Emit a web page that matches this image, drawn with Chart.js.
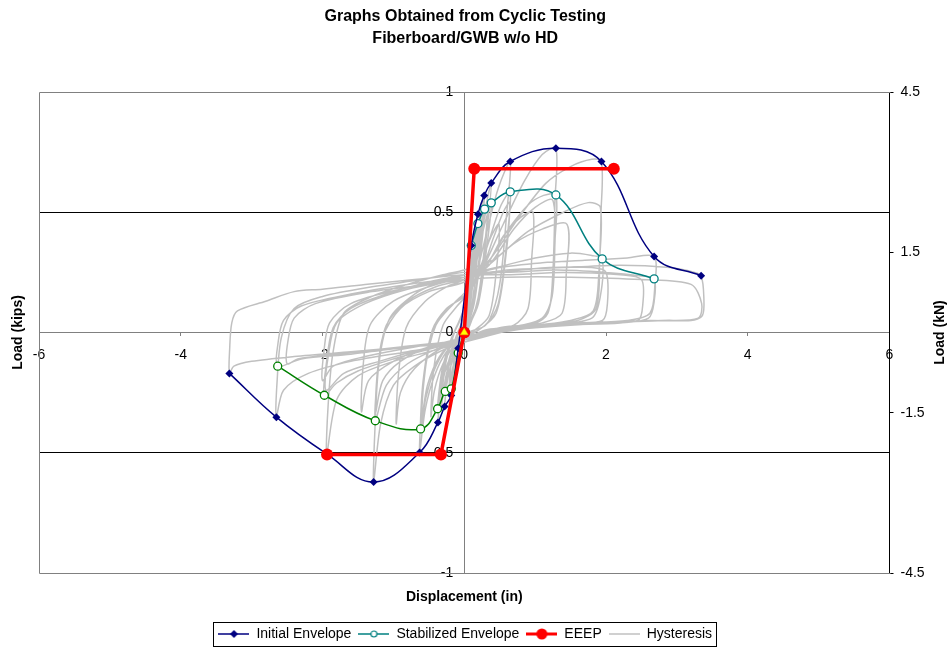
<!DOCTYPE html>
<html>
<head>
<meta charset="utf-8">
<script src="https://cdn.jsdelivr.net/npm/chart.js@4.4.1/dist/chart.umd.min.js"></script>
<style>
  html, body { margin: 0; padding: 0; background: #fff; }
</style>
</head>
<body>
<canvas id="chart" width="948" height="648"></canvas>
<script>
// values: [displacement (in), load (kips)]
const initialEnvelope = [
  [-3.314, -0.170], [-2.651, -0.352], [-1.940, -0.505], [-1.279, -0.622], [-0.630, -0.499],
  [-0.371, -0.374], [-0.277, -0.308], [-0.183, -0.262], [-0.085, -0.065],
  [0.099, 0.362], [0.193, 0.492], [0.282, 0.570], [0.381, 0.622], [0.649, 0.711],
  [1.293, 0.766], [1.936, 0.711], [2.679, 0.316], [3.342, 0.236]
];
const stabilizedPos = [
  [0.099, 0.362], [0.193, 0.453], [0.287, 0.513], [0.381, 0.539], [0.649, 0.585],
  [1.293, 0.572], [1.946, 0.306], [2.679, 0.223]
];
const stabilizedNeg = [
  [-2.632, -0.140], [-1.974, -0.261], [-1.255, -0.367], [-0.616, -0.401], [-0.376, -0.317],
  [-0.268, -0.245], [-0.183, -0.234], [-0.085, -0.085], [0, 0]
];
const eeep = [[-1.936, -0.507], [-0.329, -0.507], [0, 0], [0.141, 0.681], [2.110, 0.681]];
const originPoint = [[0, 0]];

// one gray trace, cut into cycles only to keep it readable
const hysteresisLoops = [
  [[0,0],[0.03,0.12],[0.07,0.27],[0.099,0.362],[0.08,0.25],[0.04,0.08],[0,-0.01],[-0.05,-0.04],[-0.085,-0.065],[-0.06,-0.02],[-0.02,0.03],[0.01,0.08]],
  [[0.05,0.2],[0.09,0.33],[0.07,0.2],[0.03,0.05],[-0.03,-0.02],[-0.075,-0.055],[-0.04,0],[0,0.06]],
  [[0.06,0.2],[0.13,0.37],[0.193,0.492],[0.16,0.36],[0.1,0.16],[0.03,0.02],[-0.05,-0.04],[-0.12,-0.12],[-0.183,-0.262],[-0.15,-0.14],[-0.08,-0.03],[0,0.06]],
  [[0.08,0.22],[0.14,0.36],[0.19,0.453],[0.15,0.3],[0.08,0.1],[0,0],[-0.08,-0.07],[-0.14,-0.15],[-0.18,-0.234],[-0.14,-0.1],[-0.06,-0.01],[0.01,0.07]],
  [[0.1,0.24],[0.2,0.44],[0.282,0.57],[0.24,0.4],[0.15,0.16],[0.05,0.03],[-0.06,-0.04],[-0.17,-0.12],[-0.24,-0.2],[-0.277,-0.308],[-0.23,-0.16],[-0.13,-0.03],[0,0.07]],
  [[0.12,0.25],[0.22,0.43],[0.287,0.513],[0.24,0.35],[0.14,0.12],[0.02,0.01],[-0.1,-0.06],[-0.2,-0.15],[-0.268,-0.245],[-0.22,-0.12],[-0.1,-0.01],[0.01,0.08]],
  [[0.12,0.24],[0.26,0.46],[0.381,0.622],[0.33,0.45],[0.22,0.18],[0.08,0.03],[-0.08,-0.04],[-0.22,-0.12],[-0.32,-0.22],[-0.371,-0.374],[-0.32,-0.2],[-0.2,-0.04],[-0.05,0.06],[0.03,0.1]],
  [[0.15,0.26],[0.28,0.44],[0.381,0.539],[0.32,0.36],[0.2,0.12],[0.05,0.02],[-0.12,-0.06],[-0.26,-0.15],[-0.376,-0.317],[-0.31,-0.15],[-0.17,-0.02],[0,0.09]],
  [[0.04,0.15],[0.1,0.3],[0.14,0.38],[0.11,0.25],[0.05,0.08],[-0.03,-0.03],[-0.1,-0.1],[-0.14,-0.18],[-0.11,-0.08],[-0.04,0.02],[0.02,0.09]],
  [[0.08,0.2],[0.17,0.38],[0.22,0.46],[0.18,0.3],[0.1,0.1],[0,0],[-0.1,-0.08],[-0.18,-0.17],[-0.22,-0.26],[-0.18,-0.12],[-0.08,0],[0.01,0.08]],
  [[0.12,0.23],[0.24,0.42],[0.33,0.52],[0.28,0.34],[0.18,0.12],[0.04,0.02],[-0.12,-0.07],[-0.25,-0.17],[-0.32,-0.3],[-0.27,-0.14],[-0.15,-0.01],[0,0.1]],
  [[0.15,0.22],[0.32,0.42],[0.48,0.6],[0.649,0.711],[0.6,0.5],[0.5,0.2],[0.35,0.05],[0.15,0],[-0.05,-0.03],[-0.25,-0.08],[-0.42,-0.18],[-0.55,-0.32],[-0.63,-0.499],[-0.6,-0.3],[-0.5,-0.06],[-0.35,0.06],[-0.15,0.12],[0.02,0.16]],
  [[0.2,0.25],[0.38,0.41],[0.52,0.53],[0.649,0.585],[0.6,0.38],[0.48,0.12],[0.3,0.03],[0.05,0],[-0.2,-0.05],[-0.4,-0.14],[-0.54,-0.27],[-0.616,-0.401],[-0.58,-0.2],[-0.45,0.01],[-0.25,0.1],[0,0.15]],
  [[0.22,0.24],[0.42,0.4],[0.55,0.5],[0.64,0.54],[0.58,0.3],[0.45,0.08],[0.2,0.01],[-0.1,-0.03],[-0.35,-0.1],[-0.52,-0.22],[-0.6,-0.36],[-0.55,-0.15],[-0.4,0.03],[-0.15,0.12],[0.02,0.17]],
  [[0.2,0.24],[0.35,0.38],[0.49,0.45],[0.45,0.25],[0.35,0.07],[0.15,0.01],[-0.1,-0.04],[-0.3,-0.13],[-0.42,-0.24],[-0.47,-0.35],[-0.43,-0.15],[-0.3,0.03],[-0.1,0.11],[0.02,0.15]],
  [[0.25,0.26],[0.55,0.45],[0.85,0.63],[1.1,0.74],[1.293,0.766],[1.28,0.55],[1.25,0.25],[1.18,0.08],[0.95,0.03],[0.6,0.01],[0.3,-0.01],[0,-0.04],[-0.35,-0.08],[-0.7,-0.14],[-1.0,-0.22],[-1.18,-0.38],[-1.279,-0.622],[-1.26,-0.4],[-1.2,-0.12],[-1.05,0.06],[-0.7,0.16],[-0.35,0.21],[0,0.24]],
  [[0.3,0.28],[0.6,0.42],[0.9,0.53],[1.12,0.57],[1.293,0.572],[1.28,0.38],[1.24,0.15],[1.1,0.06],[0.8,0.03],[0.4,0.01],[0,-0.03],[-0.4,-0.07],[-0.8,-0.13],[-1.1,-0.22],[-1.255,-0.367],[-1.23,-0.2],[-1.15,-0.02],[-0.9,0.1],[-0.5,0.17],[0,0.21]],
  [[0.35,0.28],[0.7,0.43],[1.0,0.52],[1.25,0.55],[1.27,0.3],[1.2,0.1],[1.0,0.04],[0.5,0.02],[0,-0.02],[-0.5,-0.06],[-0.9,-0.12],[-1.15,-0.2],[-1.25,-0.33],[-1.22,-0.15],[-1.1,0.03],[-0.8,0.13],[-0.4,0.19],[0,0.22]],
  [[0.25,0.25],[0.55,0.4],[0.8,0.48],[0.97,0.5],[0.95,0.3],[0.9,0.1],[0.7,0.03],[0.3,0.01],[0,-0.03],[-0.35,-0.07],[-0.7,-0.15],[-0.9,-0.25],[-0.96,-0.38],[-0.93,-0.18],[-0.82,0.02],[-0.55,0.13],[-0.25,0.19],[0,0.22]],
  [[0.35,0.3],[0.75,0.47],[1.15,0.62],[1.5,0.69],[1.8,0.72],[1.936,0.711],[1.93,0.5],[1.9,0.25],[1.82,0.09],[1.5,0.05],[1.0,0.03],[0.5,0.01],[0,-0.04],[-0.5,-0.08],[-1.0,-0.12],[-1.5,-0.18],[-1.8,-0.28],[-1.94,-0.505],[-1.92,-0.3],[-1.85,-0.08],[-1.7,0.08],[-1.3,0.15],[-0.8,0.2],[-0.3,0.24],[0,0.26]],
  [[0.4,0.3],[0.9,0.42],[1.4,0.5],[1.75,0.54],[1.92,0.52],[1.91,0.3],[1.86,0.1],[1.6,0.05],[1.0,0.03],[0.5,0.01],[0,-0.03],[-0.5,-0.07],[-1.0,-0.11],[-1.5,-0.16],[-1.8,-0.21],[-1.974,-0.261],[-1.95,-0.14],[-1.85,0.02],[-1.6,0.1],[-1.1,0.16],[-0.5,0.21],[0,0.24]],
  [[0.45,0.27],[1.0,0.31],[1.5,0.33],[1.8,0.32],[1.946,0.306],[1.92,0.15],[1.8,0.06],[1.2,0.03],[0.5,0],[0,-0.03],[-0.6,-0.07],[-1.2,-0.12],[-1.7,-0.17],[-1.95,-0.24],[-1.92,-0.1],[-1.8,0.04],[-1.4,0.12],[-0.8,0.18],[0,0.23]],
  [[0.3,0.27],[0.7,0.37],[1.1,0.43],[1.45,0.45],[1.44,0.25],[1.38,0.08],[1.1,0.04],[0.6,0.02],[0,-0.03],[-0.5,-0.06],[-1.0,-0.12],[-1.35,-0.2],[-1.45,-0.33],[-1.43,-0.15],[-1.33,0.03],[-1.0,0.13],[-0.5,0.19],[0,0.23]],
  [[0.5,0.27],[1.1,0.29],[1.7,0.3],[2.3,0.31],[2.679,0.316],[2.69,0.2],[2.62,0.08],[2.3,0.05],[1.6,0.04],[0.8,0.02],[0,-0.04],[-0.8,-0.08],[-1.6,-0.12],[-2.2,-0.17],[-2.55,-0.24],[-2.651,-0.352],[-2.64,-0.2],[-2.58,-0.02],[-2.4,0.1],[-2.0,0.15],[-1.3,0.19],[-0.6,0.22],[0,0.25]],
  [[0.6,0.25],[1.3,0.26],[2.0,0.25],[2.5,0.235],[2.679,0.223],[2.68,0.13],[2.6,0.06],[2.2,0.04],[1.4,0.03],[0.6,0.01],[0,-0.03],[-0.8,-0.06],[-1.6,-0.09],[-2.3,-0.11],[-2.632,-0.14],[-2.63,-0.05],[-2.55,0.05],[-2.3,0.11],[-1.6,0.16],[-0.8,0.2],[0,0.23]],
  [[0.5,0.25],[1.2,0.27],[1.8,0.27],[2.0,0.25],[2.02,0.12],[1.95,0.05],[1.5,0.04],[0.7,0.02],[0,-0.03],[-0.7,-0.06],[-1.4,-0.1],[-1.85,-0.14],[-2.0,-0.2],[-1.98,-0.08],[-1.9,0.04],[-1.6,0.12],[-0.9,0.18],[0,0.23]],
  [[0.6,0.26],[1.4,0.27],[2.2,0.28],[2.9,0.27],[3.25,0.25],[3.342,0.236],[3.38,0.15],[3.36,0.07],[3.2,0.05],[2.6,0.05],[1.8,0.04],[1.0,0.02],[0.3,0],[0,-0.04],[-0.8,-0.06],[-1.6,-0.08],[-2.4,-0.1],[-3.0,-0.12],[-3.25,-0.14],[-3.314,-0.17],[-3.31,-0.07],[-3.28,0.04],[-3.2,0.09],[-2.8,0.13],[-2.4,0.17],[-2.0,0.18],[-1.4,0.2],[-0.7,0.22],[0,0.24]],
  [[0.6,0.24],[1.4,0.25],[2.2,0.24],[2.5,0.22],[2.52,0.12],[2.45,0.05],[1.8,0.04],[0.8,0.02],[0,-0.03],[-0.9,-0.06],[-1.8,-0.09],[-2.35,-0.11],[-2.5,-0.13],[-2.49,-0.04],[-2.4,0.06],[-2.1,0.12],[-1.3,0.17],[-0.5,0.2],[0,0.22]],
  [[0.6,0.23],[1.5,0.23],[2.5,0.22],[3.2,0.2],[3.35,0.12],[3.3,0.06],[2.8,0.05],[2.0,0.04],[1.0,0.02],[0.2,0]]
];

const titleLines = ['Graphs Obtained from Cyclic Testing', 'Fiberboard/GWB w/o HD'];
const xTicks = { min: -6, max: 6, step: 2 };
const kipsTicks = { min: -1, max: 1, step: 0.5 };
const kNTicks = { min: -4.5, max: 4.5, step: 3 };

const NAVY = '#000080';
const TEAL = '#008080';
const GREEN = '#008000';
const RED = '#FF0000';
const GREY = '#C0C0C0';
const AXIS_GREY = '#808080';
const FONT = 'Liberation Sans, Arial, Helvetica, sans-serif';

const toXY = (pairs) => pairs.map((p) => ({ x: p[0], y: p[1] }));
const plainNumber = (v) => String(Math.round(v * 100) / 100);

// little canvases used as legend symbols (line with the marker in the middle)
const makeIcon = (draw) => {
  const c = document.createElement('canvas');
  c.width = 31;
  c.height = 14;
  const g = c.getContext('2d');
  draw(g);
  return c;
};
const iconLine = (g, color, width) => {
  g.strokeStyle = color;
  g.lineWidth = width;
  g.beginPath();
  g.moveTo(0, 7);
  g.lineTo(31, 7);
  g.stroke();
};
const legendIcons = [
  makeIcon((g) => {
    iconLine(g, NAVY, 1.5);
    g.fillStyle = NAVY;
    g.beginPath();
    g.moveTo(15.5, 3); g.lineTo(19.5, 7); g.lineTo(15.5, 11); g.lineTo(11.5, 7);
    g.closePath();
    g.fill();
  }),
  makeIcon((g) => {
    iconLine(g, TEAL, 1.5);
    g.fillStyle = '#fff';
    g.strokeStyle = TEAL;
    g.lineWidth = 1.2;
    g.beginPath();
    g.arc(15.5, 7, 3, 0, Math.PI * 2);
    g.fill();
    g.stroke();
  }),
  makeIcon((g) => {
    iconLine(g, RED, 3);
    g.fillStyle = RED;
    g.beginPath();
    g.arc(15.5, 7, 5.5, 0, Math.PI * 2);
    g.fill();
  }),
  makeIcon((g) => {
    iconLine(g, GREY, 1.5);
  })
];

const extrasPlugin = {
  id: 'extras',
  beforeDatasetsDraw(chart) {
    const { ctx, chartArea: a } = chart;
    ctx.save();
    ctx.strokeStyle = AXIS_GREY;
    ctx.lineWidth = 1;
    ctx.beginPath();
    ctx.moveTo(Math.round(a.right) + 0.5, Math.round(a.top) + 0.5);
    ctx.lineTo(Math.round(a.left) + 0.5, Math.round(a.top) + 0.5);
    ctx.lineTo(Math.round(a.left) + 0.5, Math.round(a.bottom) + 0.5);
    ctx.lineTo(Math.round(a.right) + 0.5, Math.round(a.bottom) + 0.5);
    ctx.stroke();
    ctx.restore();
  },
  afterDraw(chart) {
    const { ctx, chartArea: a } = chart;
    ctx.save();
    // right axis title reads bottom to top like the left one
    ctx.translate(940, (a.top + a.bottom) / 2);
    ctx.rotate(-Math.PI / 2);
    ctx.font = 'bold 14px ' + FONT;
    ctx.fillStyle = '#000';
    ctx.textAlign = 'center';
    ctx.textBaseline = 'middle';
    ctx.fillText('Load (kN)', 0, 0);
    ctx.restore();

    const boxes = chart.legend.legendHitBoxes;
    if (boxes && boxes.length) {
      const first = boxes[0];
      const last = boxes[boxes.length - 1];
      const l = Math.round(first.left - 5) + 0.5;
      const r = Math.round(last.left + last.width + 4) + 0.5;
      const t = Math.round(first.top - 5) + 0.5;
      const b = Math.round(first.top + first.height + 5) + 0.5;
      ctx.save();
      ctx.strokeStyle = '#000';
      ctx.lineWidth = 1;
      ctx.strokeRect(l, t, r - l, b - t);
      ctx.restore();
    }
  }
};

Chart.defaults.font.family = FONT;
Chart.defaults.color = '#000';

const chart = new Chart(document.getElementById('chart'), {
  type: 'scatter',
  data: {
    datasets: [
      {
        label: 'Initial Envelope',
        data: toXY(initialEnvelope),
        showLine: true,
        tension: 0.4,
        borderColor: NAVY,
        backgroundColor: NAVY,
        borderWidth: 1.5,
        pointStyle: 'rectRot',
        pointRadius: 4,
        pointBorderWidth: 0,
        order: 2
      },
      {
        label: 'Stabilized Envelope',
        data: toXY(stabilizedPos),
        showLine: true,
        tension: 0.4,
        borderColor: TEAL,
        backgroundColor: '#fff',
        borderWidth: 1.5,
        pointRadius: 4,
        pointBorderWidth: 1.3,
        order: 3
      },
      {
        label: 'EEEP',
        data: toXY(eeep),
        showLine: true,
        tension: 0,
        borderColor: RED,
        backgroundColor: RED,
        borderWidth: 3.5,
        pointRadius: 6,
        pointBorderWidth: 0,
        order: 1
      },
      {
        label: 'Hysteresis',
        data: hysteresisLoops.flat().map((p) => ({ x: p[0], y: p[1] })),
        showLine: true,
        tension: 0.3,
        borderColor: GREY,
        backgroundColor: GREY,
        borderWidth: 1.5,
        pointRadius: 0,
        order: 9
      },
      {
        label: 'Stabilized Envelope (-)',
        data: toXY(stabilizedNeg),
        showLine: true,
        tension: 0.4,
        borderColor: GREEN,
        backgroundColor: '#fff',
        borderWidth: 1.5,
        pointRadius: [4, 4, 4, 4, 4, 4, 4, 4, 0],
        pointBorderWidth: 1.3,
        order: 3
      },
      {
        label: 'Origin',
        data: toXY(originPoint),
        showLine: false,
        pointStyle: 'triangle',
        pointRadius: 4.5,
        backgroundColor: '#FFFF00',
        borderColor: '#E0C000',
        pointBorderWidth: 0.5,
        order: 0
      }
    ]
  },
  options: {
    responsive: false,
    animation: false,
    events: [],
    layout: { padding: { left: 0, right: 17.5, top: 0, bottom: 0 } },
    plugins: {
      title: {
        display: true,
        text: titleLines,
        color: '#000',
        font: { size: 16, weight: 'bold', lineHeight: 1.375 },
        padding: { top: 6, bottom: 42 }
      },
      legend: {
        position: 'bottom',
        maxHeight: 28,
        labels: {
          usePointStyle: true,
          pointStyleWidth: 31,
          padding: 7,
          color: '#000',
          font: { size: 14 },
          filter: (item) => item.datasetIndex < 4,
          sort: (a, b) => a.datasetIndex - b.datasetIndex,
          generateLabels: (chart) => {
            const items = Chart.defaults.plugins.legend.labels.generateLabels(chart);
            items.forEach((item) => {
              if (legendIcons[item.datasetIndex]) item.pointStyle = legendIcons[item.datasetIndex];
            });
            return items;
          }
        }
      },
      tooltip: { enabled: false }
    },
    scales: {
      x: {
        type: 'linear',
        position: { y: 0 },
        min: xTicks.min,
        max: xTicks.max,
        ticks: { stepSize: xTicks.step, autoSkip: false, maxRotation: 0, padding: 11, font: { size: 14 } },
        // only the zero gridline is shown: it is the vertical axis line
        grid: {
          tickLength: 3,
          tickColor: AXIS_GREY,
          color: (c) => (c.tick && c.tick.value === 0 ? AXIS_GREY : 'rgba(0,0,0,0)')
        },
        border: { color: AXIS_GREY, width: 1 }
      },
      y: {
        type: 'linear',
        // labels sit a little left of the zero line
        position: { x: -0.155 },
        min: kipsTicks.min,
        max: kipsTicks.max,
        ticks: { stepSize: kipsTicks.step, padding: 0, font: { size: 14 }, callback: plainNumber },
        grid: {
          drawTicks: false,
          color: (c) => (c.tick && Math.abs(Math.abs(c.tick.value) - 0.5) < 1e-9 ? '#000' : 'rgba(0,0,0,0)')
        },
        border: { display: false }
      },
      y2: {
        type: 'linear',
        position: 'right',
        min: kNTicks.min,
        max: kNTicks.max,
        ticks: { stepSize: kNTicks.step, padding: 7, font: { size: 14 } },
        grid: { drawOnChartArea: false, tickLength: 4, color: '#000' },
        border: { color: '#000', width: 1 },
        afterFit: (s) => { s.width = 41; }
      },
      xt: {
        type: 'linear',
        position: 'bottom',
        min: xTicks.min,
        max: xTicks.max,
        ticks: { display: false },
        grid: { display: false, drawTicks: false },
        border: { display: false },
        title: {
          display: true,
          text: 'Displacement (in)',
          color: '#000',
          font: { size: 14, weight: 'bold' },
          padding: { top: 0, bottom: 14.6 }
        },
        afterFit: (s) => { s.height = 47; }
      },
      yt: {
        type: 'linear',
        position: 'left',
        min: kipsTicks.min,
        max: kipsTicks.max,
        ticks: { display: false },
        grid: { display: false, drawTicks: false },
        border: { display: false },
        title: {
          display: true,
          text: 'Load (kips)',
          color: '#000',
          font: { size: 14, weight: 'bold' },
          padding: { top: 9.6, bottom: 0 }
        },
        afterFit: (s) => { s.width = 39; }
      }
    }
  },
  plugins: [extrasPlugin]
});
</script>
</body>
</html>
